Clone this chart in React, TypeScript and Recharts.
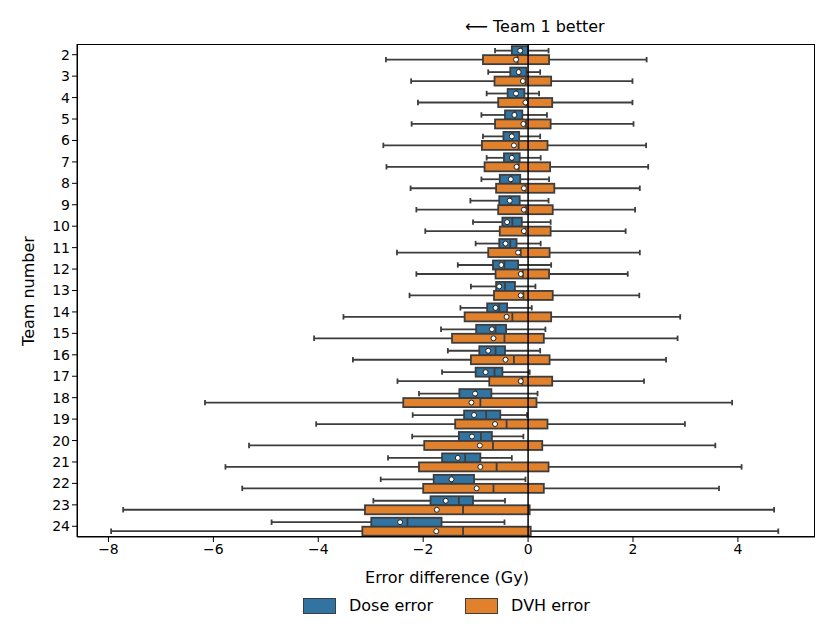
import { BarChart, Bar, XAxis, YAxis, ReferenceLine } from 'recharts'

const teams = ['2', '3', '4', '5', '6', '7', '8', '9', '10', '11', '12', '13', '14', '15', '16', '17', '18', '19', '20', '21', '22', '23', '24']

// Dose error: whisker low, Q1, median, Q3, whisker high, mean
const doseLo = [-0.63, -0.76, -0.79, -0.89, -0.86, -0.79, -0.89, -1.1, -1.05, -1.0, -1.34, -1.09, -1.29, -1.66, -1.53, -1.64, -2.08, -2.2, -2.21, -2.67, -2.81, -2.95, -4.89]
const doseQ1 = [-0.31, -0.34, -0.39, -0.44, -0.47, -0.46, -0.54, -0.55, -0.49, -0.55, -0.67, -0.61, -0.78, -0.99, -0.93, -1.0, -1.31, -1.22, -1.32, -1.64, -1.8, -1.86, -2.99]
const doseMed = [-0.12, -0.17, -0.22, -0.25, -0.3, -0.3, -0.32, -0.33, -0.3, -0.34, -0.45, -0.44, -0.55, -0.62, -0.62, -0.64, -1.0, -0.8, -0.9, -1.2, -1.45, -1.32, -2.3]
const doseQ3 = [0.0, -0.03, -0.07, -0.11, -0.17, -0.16, -0.15, -0.16, -0.12, -0.22, -0.19, -0.25, -0.4, -0.42, -0.44, -0.49, -0.7, -0.53, -0.69, -0.91, -1.03, -1.05, -1.65]
const doseHi = [0.39, 0.23, 0.21, 0.36, 0.23, 0.24, 0.4, 0.39, 0.43, 0.24, 0.44, 0.14, 0.07, 0.33, 0.23, 0.03, 0.18, -0.02, -0.09, -0.31, -0.05, -0.44, -0.45]
const doseMean = [-0.15, -0.18, -0.23, -0.26, -0.31, -0.31, -0.33, -0.35, -0.4, -0.43, -0.51, -0.55, -0.62, -0.69, -0.76, -0.81, -1.01, -1.03, -1.07, -1.34, -1.46, -1.57, -2.44]

// DVH error
const dvhLo = [-2.71, -2.23, -2.1, -2.22, -2.76, -2.7, -2.24, -2.13, -1.96, -2.5, -2.13, -2.26, -3.52, -4.08, -3.34, -2.49, -6.16, -4.04, -5.32, -5.77, -5.45, -7.72, -7.95]
const dvhQ1 = [-0.86, -0.64, -0.57, -0.63, -0.88, -0.83, -0.61, -0.57, -0.54, -0.76, -0.62, -0.65, -1.21, -1.45, -1.09, -0.74, -2.38, -1.39, -1.98, -2.08, -2.0, -3.11, -3.16]
const dvhMed = [-0.2, -0.04, -0.03, -0.04, -0.18, -0.18, -0.05, -0.04, -0.05, -0.14, -0.1, -0.09, -0.3, -0.45, -0.27, -0.11, -0.91, -0.41, -0.67, -0.6, -0.66, -1.24, -1.24]
const dvhQ3 = [0.4, 0.44, 0.46, 0.43, 0.37, 0.42, 0.5, 0.47, 0.43, 0.41, 0.4, 0.47, 0.44, 0.3, 0.41, 0.46, 0.16, 0.37, 0.27, 0.39, 0.3, 0.03, 0.05]
const dvhHi = [2.26, 1.99, 1.99, 2.01, 2.25, 2.29, 2.13, 2.04, 1.86, 2.13, 1.9, 2.12, 2.9, 2.85, 2.63, 2.21, 3.89, 2.99, 3.57, 4.07, 3.64, 4.69, 4.77]
const dvhMean = [-0.23, -0.1, -0.05, -0.09, -0.27, -0.22, -0.08, -0.08, -0.08, -0.19, -0.14, -0.14, -0.41, -0.66, -0.43, -0.14, -1.08, -0.63, -0.92, -0.91, -0.98, -1.74, -1.75]

const xTicks = [-8, -6, -4, -2, 0, 2, 4]

const data = teams.map((team, i) => ({
  team,
  dose: { lo: doseLo[i], q1: doseQ1[i], med: doseMed[i], q3: doseQ3[i], hi: doseHi[i], mean: doseMean[i] },
  dvh: { lo: dvhLo[i], q1: dvhQ1[i], med: dvhMed[i], q3: dvhQ3[i], hi: dvhHi[i], mean: dvhMean[i] },
}))

const EDGE = '#3d3d3d'
const FONT = '"DejaVu Sans", sans-serif'
const SW = 1.8

function BoxShape(props: any) {
  const { x, y, width, height, payload, fill, series } = props
  const s = payload[series]
  const k = width / (s.q3 - s.q1)
  const px = (v: number) => x + (v - s.q1) * k
  const cy = y + height / 2
  const cap = height * 0.3
  return (
    <g>
      <line x1={px(s.lo)} x2={x} y1={cy} y2={cy} stroke={EDGE} strokeWidth={SW} />
      <line x1={x + width} x2={px(s.hi)} y1={cy} y2={cy} stroke={EDGE} strokeWidth={SW} />
      <line x1={px(s.lo)} x2={px(s.lo)} y1={cy - cap} y2={cy + cap} stroke={EDGE} strokeWidth={SW} />
      <line x1={px(s.hi)} x2={px(s.hi)} y1={cy - cap} y2={cy + cap} stroke={EDGE} strokeWidth={SW} />
      <rect x={x} y={y} width={width} height={height} fill={fill} stroke={EDGE} strokeWidth={SW} />
      <line x1={px(s.med)} x2={px(s.med)} y1={y} y2={y + height} stroke={EDGE} strokeWidth={SW} />
      <circle cx={px(s.mean)} cy={cy} r={2.5} fill="#fff" stroke="#222" strokeWidth={1} />
    </g>
  )
}

const fmt = (v: number) => (v < 0 ? `\u2212${Math.abs(v)}` : `${v}`)

export default function App() {
  return (
    <div style={{ position: 'absolute', left: 0, top: 0, width: 831, height: 642, background: '#fff', fontFamily: FONT }}>
      <BarChart
        width={831}
        height={642}
        data={data}
        layout="vertical"
        margin={{ top: 44, right: 16, left: 37, bottom: 75 }}
        barCategoryGap="10%"
        barGap={0}
      >
        <XAxis
          type="number"
          domain={[-8.6, 5.47]}
          ticks={xTicks}
          tickFormatter={fmt}
          tick={{ fill: '#000', fontSize: 14, fontFamily: FONT }}
          tickLine={{ stroke: '#000' }}
          axisLine={{ stroke: '#000' }}
          tickSize={5}
          height={30}
          allowDataOverflow
        />
        <YAxis
          type="category"
          dataKey="team"
          width={40}
          tick={{ fill: '#000', fontSize: 14, fontFamily: FONT }}
          tickLine={{ stroke: '#000' }}
          axisLine={{ stroke: '#000' }}
          tickSize={5}
          interval={0}
        />
        <Bar
          dataKey={(d: any) => [d.dose.q1, d.dose.q3]}
          fill="#3274a1"
          isAnimationActive={false}
          shape={(p: any) => <BoxShape {...p} series="dose" fill="#3274a1" />}
        />
        <Bar
          dataKey={(d: any) => [d.dvh.q1, d.dvh.q3]}
          fill="#e1812c"
          isAnimationActive={false}
          shape={(p: any) => <BoxShape {...p} series="dvh" fill="#e1812c" />}
        />
        <ReferenceLine x={0} stroke="#000" strokeWidth={1.5} />
      </BarChart>
      <div style={{ position: 'absolute', left: 77, top: 44, width: 738, height: 493, border: '1px solid #000', boxSizing: 'border-box', pointerEvents: 'none' }} />
      <div style={{ position: 'absolute', left: 465, top: 17, fontSize: 16, lineHeight: '19px' }}>⟵ Team 1 better</div>
      <div style={{ position: 'absolute', left: 0, width: 894, top: 568, textAlign: 'center', fontSize: 16, lineHeight: '19px' }}>Error difference (Gy)</div>
      <div style={{ position: 'absolute', left: 28, top: 291, fontSize: 16, transform: 'translate(-50%, -50%) rotate(-90deg)', whiteSpace: 'nowrap' }}>Team number</div>
      <div style={{ position: 'absolute', left: 303, top: 596, display: 'flex', alignItems: 'center', fontSize: 16, lineHeight: '19px' }}>
        <span style={{ width: 31, height: 14, background: '#3274a1', border: `1px solid ${EDGE}`, display: 'inline-block' }} />
        <span style={{ marginLeft: 13 }}>Dose error</span>
        <span style={{ width: 31, height: 14, background: '#e1812c', border: `1px solid ${EDGE}`, display: 'inline-block', marginLeft: 32 }} />
        <span style={{ marginLeft: 13 }}>DVH error</span>
      </div>
    </div>
  )
}
